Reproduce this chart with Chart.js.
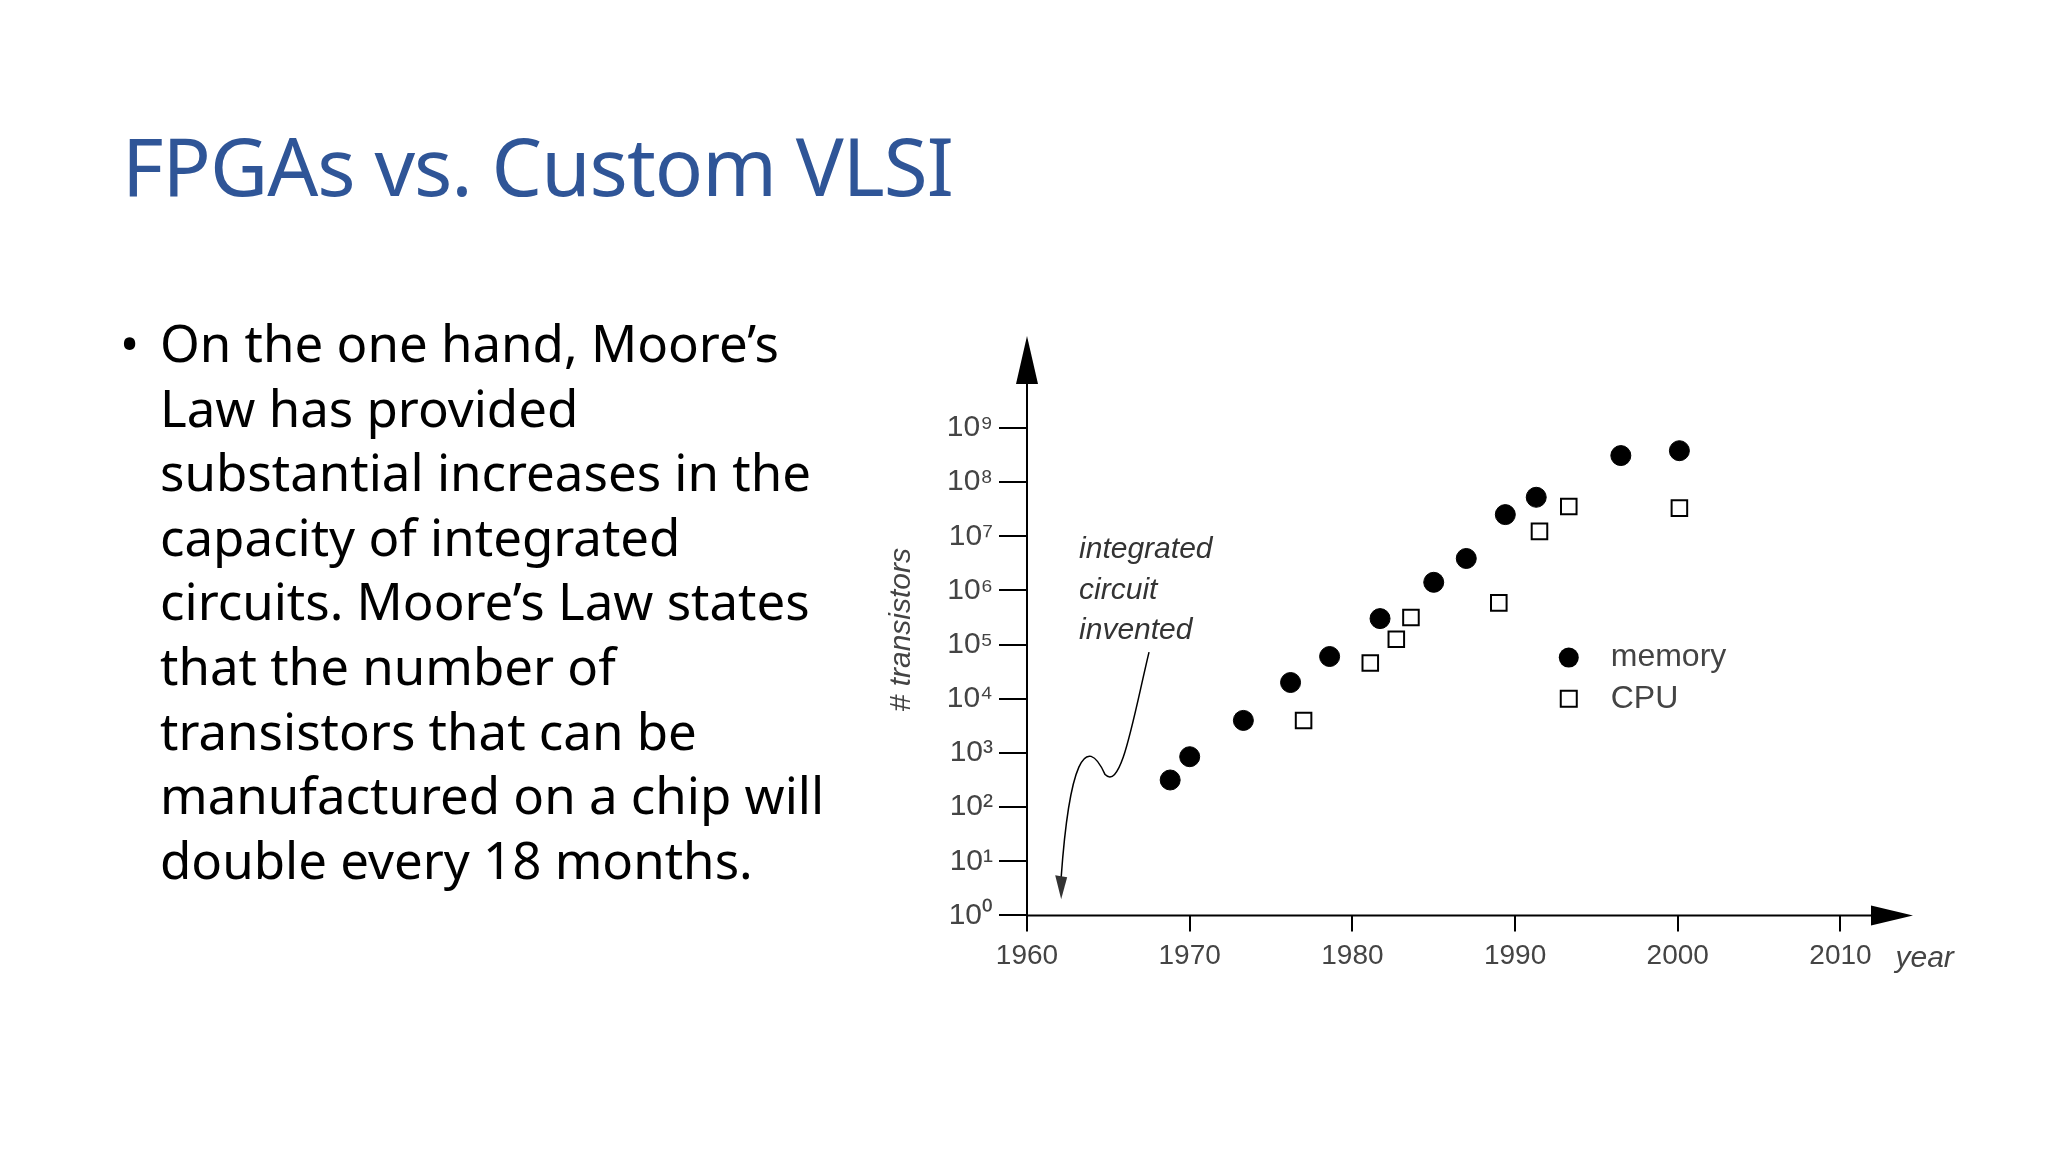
<!DOCTYPE html>
<html lang="en">
<head>
<meta charset="UTF-8">
<title>FPGAs vs. Custom VLSI</title>
<script src="https://cdn.jsdelivr.net/npm/chart.js"></script>
<style>
    body { margin: 0; width: 2048px; height: 1152px; background: #fff; position: relative; overflow: hidden; font-family: "Noto Sans", sans-serif; }
    h1 { position: absolute; left: 122px; top: 110px; margin: 0; font-weight: normal; font-size: 80px; color: #2f5597; letter-spacing: -1px; }
    #text { position: absolute; left: 120px; top: 310px; width: 760px; font-size: 51px; line-height: 64.6px; color: #000; }
    #text .b { position: absolute; left: 0; }
    #text p { margin: 0 0 0 40px; }
    #chart-box { position: absolute; left: 860px; top: 320px; width: 1140px; height: 720px; }
</style>
</head>
<body>
<h1>FPGAs vs. Custom VLSI</h1>
<div id="text"><span class="b">•</span><p>On the one hand, Moore’s<br>Law has provided<br>substantial increases in the<br>capacity of integrated<br>circuits. Moore’s Law states<br>that the number of<br>transistors that can be<br>manufactured on a chip will<br>double every 18 months.</p></div>
<div id="chart-box"><canvas id="c" width="1140" height="720"></canvas></div>
<script>
    const memYears = [1968.8, 1970, 1973.3, 1976.2, 1978.6, 1981.7, 1985, 1987, 1989.4, 1991.3, 1996.5, 2000.1];
    const memLog   = [2.5, 2.93, 3.6, 4.3, 4.78, 5.48, 6.15, 6.59, 7.4, 7.72, 8.49, 8.58];
    const cpuYears = [1977, 1981.1, 1982.7, 1983.6, 1989, 1991.5, 1993.3, 2000.1];
    const cpuLog   = [3.6, 4.66, 5.1, 5.5, 5.77, 7.09, 7.55, 7.52];
    const yearTicks = [1960, 1970, 1980, 1990, 2000, 2010];
    const powTicks = [0, 1, 2, 3, 4, 5, 6, 7, 8, 9];
    const sup = ['⁰','¹','²','³','⁴','⁵','⁶','⁷','⁸','⁹'];

    const toPts = (xs, ls) => xs.map((x, i) => ({ x: x, y: Math.pow(10, ls[i]) }));

    // arrows, annotation, legend
    const extras = {
        id: 'extras',
        afterDraw(chart) {
            const ctx = chart.ctx, xs = chart.scales.x, ys = chart.scales.y;
            const P = (yr, lg) => [xs.getPixelForValue(yr), ys.getPixelForValue(Math.pow(10, lg))];
            const x0 = xs.getPixelForValue(1960), y0 = ys.getPixelForValue(1);
            ctx.save();
            ctx.fillStyle = '#000'; ctx.strokeStyle = '#000'; ctx.lineWidth = 2;
            // y arrow
            ctx.beginPath(); ctx.moveTo(x0, y0); ctx.lineTo(x0, chart.chartArea.top + 30); ctx.stroke();
            ctx.beginPath(); ctx.moveTo(x0, chart.chartArea.top - 8); ctx.lineTo(x0 - 11, chart.chartArea.top + 40); ctx.lineTo(x0 + 11, chart.chartArea.top + 40); ctx.fill();
            // x arrow
            const xr = chart.chartArea.right;
            ctx.beginPath(); ctx.moveTo(x0, y0); ctx.lineTo(xr, y0); ctx.stroke();
            ctx.beginPath(); ctx.moveTo(xr + 40, y0); ctx.lineTo(xr - 2, y0 - 10); ctx.lineTo(xr - 2, y0 + 10); ctx.fill();
            // annotation
            ctx.font = 'italic 30px "Liberation Sans"'; ctx.fillStyle = '#333';
            ctx.fillText('integrated', ...P(1963.2, 6.6));
            ctx.fillText('circuit', ...P(1963.2, 5.85));
            ctx.fillText('invented', ...P(1963.2, 5.1));
            ctx.lineWidth = 1.5;
            ctx.beginPath();
            ctx.moveTo(...P(1967.5, 4.86));
            ctx.bezierCurveTo(...P(1966.5, 3.6), ...P(1965.8, 2.3), ...P(1964.8, 2.6));
            ctx.bezierCurveTo(...P(1963.6, 3.4), ...P(1962.6, 2.8), ...P(1962.1, 0.7));
            ctx.stroke();
            const [tx, ty] = P(1962.1, 0.3);
            ctx.beginPath(); ctx.moveTo(tx, ty); ctx.lineTo(tx - 6, ty - 24); ctx.lineTo(tx + 6, ty - 22); ctx.fill();
            // legend
            const [lx, ly1] = P(1993.3, 4.76);
            const ly2 = ys.getPixelForValue(Math.pow(10, 4.0));
            ctx.fillStyle = '#000';
            ctx.beginPath(); ctx.arc(lx, ly1, 10, 0, Math.PI * 2); ctx.fill();
            ctx.lineWidth = 2; ctx.strokeRect(lx - 8, ly2 - 8, 16, 16);
            ctx.font = '32px "Liberation Sans"'; ctx.fillStyle = '#444'; ctx.textBaseline = 'middle';
            ctx.fillText('memory', lx + 42, ly1);
            ctx.fillText('CPU', lx + 42, ly2);
            // year label
            ctx.font = 'italic 30px "Liberation Sans"'; ctx.textBaseline = 'alphabetic';
            ctx.fillText('year', xs.getPixelForValue(2010) + 55, y0 + 52);
            ctx.restore();
        }
    };

    new Chart(document.getElementById('c'), {
        type: 'scatter',
        data: {
            datasets: [
                { label: 'memory', data: toPts(memYears, memLog), pointStyle: 'circle', pointRadius: 10, backgroundColor: '#000', borderColor: '#000' },
                { label: 'CPU', data: toPts(cpuYears, cpuLog), pointStyle: 'rect', pointRadius: 11, backgroundColor: '#fff', borderColor: '#000', borderWidth: 2 }
            ]
        },
        options: {
            responsive: false, animation: false,
            layout: { padding: { top: 8, right: 127, bottom: 59, left: 10 } },
            plugins: { legend: { display: false }, tooltip: { enabled: false } },
            scales: {
                x: {
                    type: 'linear', min: 1960, max: 2012,
                    afterBuildTicks: s => { s.ticks = yearTicks.map(v => ({ value: v })); },
                    border: { display: false },
                    grid: { drawOnChartArea: false, tickLength: 16, color: '#000', lineWidth: 2 },
                    ticks: { color: '#444', font: { size: 28, family: 'Liberation Sans' }, padding: 8, callback: v => String(v) }
                },
                y: {
                    type: 'logarithmic', min: 1, max: Math.pow(10, 10.55),
                    afterBuildTicks: s => { s.ticks = powTicks.map(p => ({ value: Math.pow(10, p) })); },
                    afterFit: s => { s.width = 157; },
                    border: { display: false },
                    grid: { drawOnChartArea: false, tickLength: 28, color: '#000', lineWidth: 2 },
                    ticks: {
                        color: '#444', font: { size: 30, family: 'Liberation Sans' }, padding: 6,
                        callback: v => '10' + sup[Math.round(Math.log10(v))]
                    },
                    title: { display: true, text: '# transistors', color: '#444', font: { size: 30, style: 'italic', family: 'Liberation Sans' }, padding: 14 }
                }
            }
        },
        plugins: [extras]
    });
</script>
</body>
</html>
